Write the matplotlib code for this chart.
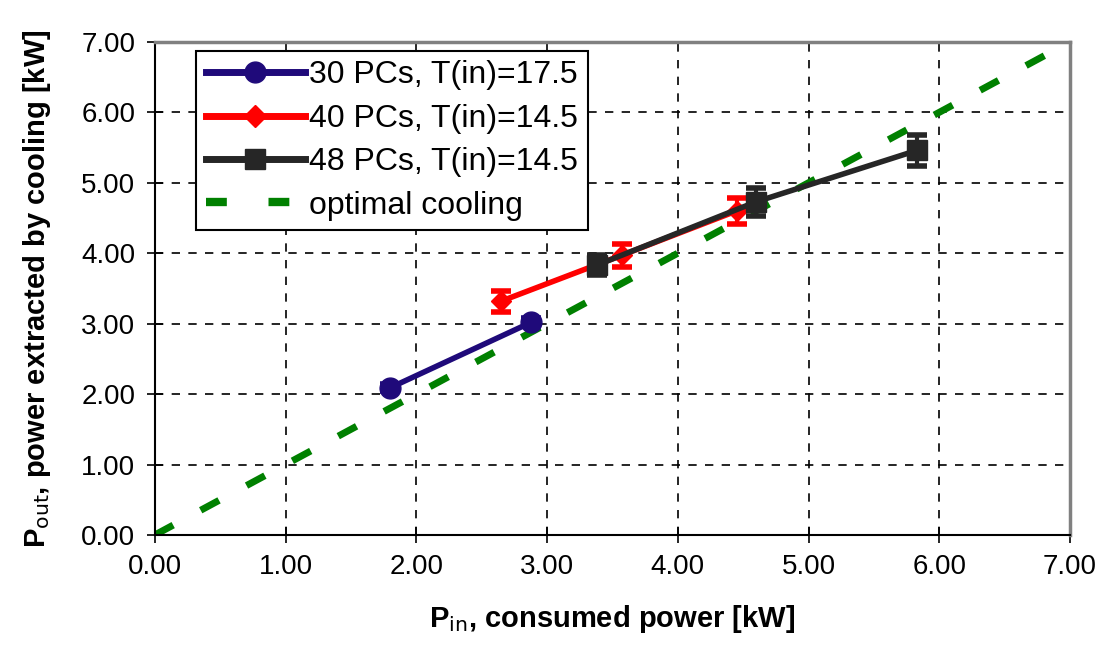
import matplotlib
matplotlib.use("Agg")
import matplotlib.pyplot as plt
from matplotlib.lines import Line2D

plt.rcParams['font.family'] = ['Liberation Sans', 'DejaVu Sans']

x30 = [1.80, 2.88]
y30 = [2.09, 3.02]
e30 = [0.05, 0.06]

x40 = [2.65, 3.57, 4.45]
y40 = [3.32, 3.97, 4.60]
e40 = [0.15, 0.16, 0.19]

x48 = [3.38, 4.60, 5.83]
y48 = [3.83, 4.73, 5.46]
e48 = [0.14, 0.20, 0.22]

xopt = [0.0, 6.85]
yopt = [0.0, 6.85]

ticks = [0, 1, 2, 3, 4, 5, 6, 7]

c30, c40, c48, copt = '#1f0a7a', '#ff0000', '#262626', '#008000'

fig = plt.figure(figsize=(11.06, 6.54), dpi=100)
ax = fig.add_axes([0.140, 0.182, 0.8275, 0.754])

ax.plot(xopt, yopt, color=copt, lw=5, dashes=(3, 4.5), zorder=2)
ax.errorbar(x30, y30, yerr=e30, color=c30, lw=4, marker='o', ms=15,
            capsize=7, capthick=4, elinewidth=3, zorder=3)
ax.errorbar(x40, y40, yerr=e40, color=c40, lw=4, marker='D', ms=10,
            capsize=7, capthick=4, elinewidth=3, zorder=3)
ax.errorbar(x48, y48, yerr=e48, color=c48, lw=4, marker='s', ms=14,
            capsize=7, capthick=4, elinewidth=3, zorder=4)

ax.set_xlim(0, 7)
ax.set_ylim(0, 7)
ax.set_xticks(ticks)
ax.set_yticks(ticks)
ax.set_xticklabels([f"{t:.2f}" for t in ticks], fontsize=20)
ax.set_yticklabels([f"{t:.2f}" for t in ticks], fontsize=20)
ax.tick_params(direction='inout', length=12, width=1.2, pad=8)
ax.grid(True, color='black', linestyle=(0, (5, 5)), lw=1.2)
ax.set_axisbelow(True)

for s in ['top', 'right']:
    ax.spines[s].set_color('#808080')
    ax.spines[s].set_linewidth(2.5)
for s in ['left', 'bottom']:
    ax.spines[s].set_color('black')
    ax.spines[s].set_linewidth(1.5)

ax.set_xlabel(r'P$_{\mathrm{in}}$, consumed power [kW]', fontsize=21, fontweight='bold', labelpad=16)
ax.set_ylabel(r'P$_{\mathrm{out}}$, power extracted by cooling [kW]', fontsize=21, fontweight='bold', labelpad=20)

handles = [
    Line2D([], [], color=c30, lw=5, marker='o', ms=15),
    Line2D([], [], color=c40, lw=5, marker='D', ms=11),
    Line2D([], [], color=c48, lw=5, marker='s', ms=14),
    Line2D([], [], color=copt, lw=6, dashes=(2.5, 5)),
]
labels = ['30 PCs, T(in)=17.5', '40 PCs, T(in)=14.5', '48 PCs, T(in)=14.5', 'optimal cooling']
leg = ax.legend(handles, labels, loc='upper left', bbox_to_anchor=(0.045, 0.982), fontsize=23,
                frameon=True, fancybox=False, edgecolor='black', framealpha=1,
                handlelength=3.1, borderpad=0.3, labelspacing=0.42, handletextpad=0.15,
                borderaxespad=0)
leg.get_frame().set_linewidth(1.5)

fig.savefig('out.png', dpi=100)
